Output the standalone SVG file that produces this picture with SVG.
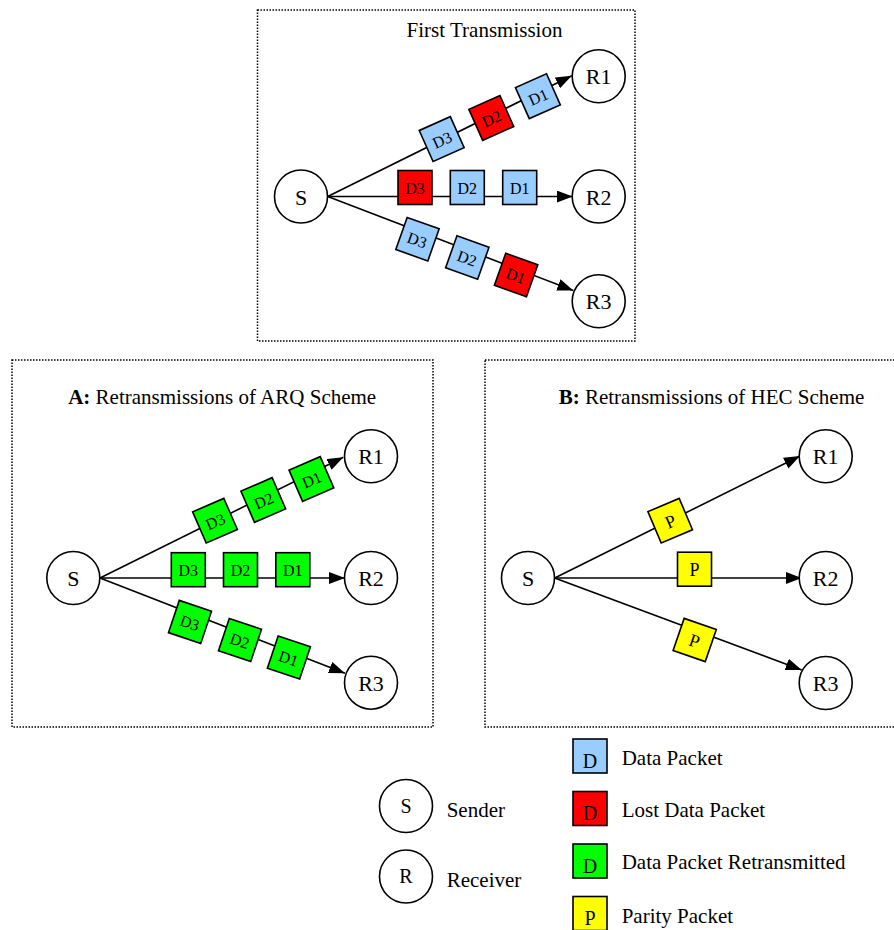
<svg xmlns="http://www.w3.org/2000/svg" width="894" height="930" viewBox="0 0 894 930">
<defs>
<marker id="arr" markerUnits="userSpaceOnUse" markerWidth="18" markerHeight="14" refX="16" refY="6" orient="auto"><path d="M0,0 L16,6 L0,12 z" fill="#000"/></marker>
</defs>
<style>
.frame{fill:none;stroke:#000;stroke-width:1.5;stroke-dasharray:1.5 1.5}
.node circle{fill:#fff;stroke:#000;stroke-width:1.6}
.node text,.title,.lbl{font-family:"Liberation Serif","Times New Roman",serif;fill:#000}
.node text{font-size:22px;text-anchor:middle}
.title{font-size:21px;text-anchor:middle}
.lbl{font-size:21px}
.pk rect{stroke:#000;stroke-width:1.6}
.pk text{font-family:"Liberation Serif","Times New Roman",serif;font-size:16px;text-anchor:middle;fill:#000}
.pk.par text{font-size:18px}
.pk.lg text{font-size:20px}
.blue rect{fill:#99ccff}
.red rect{fill:#ff0000}
.green rect{fill:#00ff00}
.yel rect{fill:#ffff00}
.edge{stroke:#000;stroke-width:1.6;fill:none;marker-end:url(#arr)}
</style>
<rect fill="#fff" x="0" y="0" width="894" height="930"/>

<!-- frames -->
<rect class="frame" x="257.5" y="10" width="377.5" height="331"/>
<rect class="frame" x="12" y="360" width="421" height="367"/>
<rect class="frame" x="485" y="360" width="420" height="367"/>

<text class="title" x="484.5" y="36.7">First Transmission</text>
<text class="title" x="222.2" y="404.3"><tspan font-weight="bold">A:</tspan> Retransmissions of ARQ Scheme</text>
<text class="title" x="711.5" y="404.3"><tspan font-weight="bold">B:</tspan> Retransmissions of HEC Scheme</text>

<g id="connectors">
<line class="edge" x1="327.7" y1="196.5" x2="571.7" y2="75.7"/>
<line class="edge" x1="327.7" y1="196.5" x2="572.7" y2="196.5"/>
<line class="edge" x1="327.7" y1="196.5" x2="573.3" y2="290.5"/>
<line class="edge" x1="100" y1="578" x2="343.3" y2="457.3"/>
<line class="edge" x1="100" y1="578" x2="345" y2="578"/>
<line class="edge" x1="100" y1="578" x2="345" y2="673.3"/>
<line class="edge" x1="554.7" y1="578" x2="800" y2="456"/>
<line class="edge" x1="554.7" y1="578" x2="801.7" y2="578"/>
<line class="edge" x1="554.7" y1="578" x2="801.7" y2="670"/>
</g>

<!-- top panel packets -->
<g id="t1-d3" class="pk blue" transform="translate(441.7,139.1) rotate(-24)"><rect x="-17" y="-17" width="34" height="34"/><text y="6.5">D3</text></g>
<g id="t1-d2" class="pk red" transform="translate(491.3,117.9) rotate(-24)"><rect x="-17" y="-17" width="34" height="34"/><text y="6.5">D2</text></g>
<g id="t1-d1" class="pk blue" transform="translate(537.9,96.2) rotate(-24)"><rect x="-17" y="-17" width="34" height="34"/><text y="6.5">D1</text></g>
<g id="t2-d3" class="pk red" transform="translate(415,187.5)"><rect x="-17" y="-17" width="34" height="34"/><text y="6.5">D3</text></g>
<g id="t2-d2" class="pk blue" transform="translate(467.3,187.5)"><rect x="-17" y="-17" width="34" height="34"/><text y="6.5">D2</text></g>
<g id="t2-d1" class="pk blue" transform="translate(519.7,187.5)"><rect x="-17" y="-17" width="34" height="34"/><text y="6.5">D1</text></g>
<g id="t3-d3" class="pk blue" transform="translate(417.5,239.2) rotate(19.5)"><rect x="-17" y="-17" width="34" height="34"/><text y="6.5">D3</text></g>
<g id="t3-d2" class="pk blue" transform="translate(467.3,257.5) rotate(19.5)"><rect x="-17" y="-17" width="34" height="34"/><text y="6.5">D2</text></g>
<g id="t3-d1" class="pk red" transform="translate(516.1,275) rotate(19.5)"><rect x="-17" y="-17" width="34" height="34"/><text y="6.5">D1</text></g>

<!-- panel A packets -->
<g id="a1-d3" class="pk green" transform="translate(215,520.7) rotate(-23.5)"><rect x="-17" y="-17" width="34" height="34"/><text y="6.5">D3</text></g>
<g id="a1-d2" class="pk green" transform="translate(263.3,500) rotate(-23.5)"><rect x="-17" y="-17" width="34" height="34"/><text y="6.5">D2</text></g>
<g id="a1-d1" class="pk green" transform="translate(311.4,479) rotate(-23.5)"><rect x="-17" y="-17" width="34" height="34"/><text y="6.5">D1</text></g>
<g id="a2-d3" class="pk green" transform="translate(188.3,569.7)"><rect x="-17" y="-17" width="34" height="34"/><text y="6.5">D3</text></g>
<g id="a2-d2" class="pk green" transform="translate(240.5,569.7)"><rect x="-17" y="-17" width="34" height="34"/><text y="6.5">D2</text></g>
<g id="a2-d1" class="pk green" transform="translate(292.8,569.7)"><rect x="-17" y="-17" width="34" height="34"/><text y="6.5">D1</text></g>
<g id="a3-d3" class="pk green" transform="translate(190,621.9) rotate(18.5)"><rect x="-17" y="-17" width="34" height="34"/><text y="6.5">D3</text></g>
<g id="a3-d2" class="pk green" transform="translate(240,640) rotate(18.5)"><rect x="-17" y="-17" width="34" height="34"/><text y="6.5">D2</text></g>
<g id="a3-d1" class="pk green" transform="translate(288.9,657.5) rotate(18.5)"><rect x="-17" y="-17" width="34" height="34"/><text y="6.5">D1</text></g>

<!-- panel B packets -->
<g id="b1-p" class="pk yel par" transform="translate(670.2,520.7) rotate(-23)"><rect x="-17" y="-17" width="34" height="34"/><text y="7">P</text></g>
<g id="b2-p" class="pk yel par" transform="translate(694.5,569.2)"><rect x="-17" y="-17" width="34" height="34"/><text y="7">P</text></g>
<g id="b3-p" class="pk yel par" transform="translate(694.7,640) rotate(19)"><rect x="-17" y="-17" width="34" height="34"/><text y="7">P</text></g>

<!-- nodes: top -->
<g id="top-S" class="node"><circle cx="301" cy="196.5" r="26.5"/><text x="301" y="204.5">S</text></g>
<g id="top-R1" class="node"><circle cx="598.7" cy="76.3" r="26.5"/><text x="598.7" y="84.3">R1</text></g>
<g id="top-R2" class="node"><circle cx="598.7" cy="196.5" r="26.5"/><text x="598.7" y="204.5">R2</text></g>
<g id="top-R3" class="node"><circle cx="598.7" cy="301.3" r="26.5"/><text x="598.7" y="309.3">R3</text></g>
<!-- nodes: A -->
<g id="a-S" class="node"><circle cx="73.3" cy="578" r="26.5"/><text x="73.3" y="586">S</text></g>
<g id="a-R1" class="node"><circle cx="371" cy="456.3" r="26.5"/><text x="371" y="464.3">R1</text></g>
<g id="a-R2" class="node"><circle cx="371" cy="578" r="26.5"/><text x="371" y="586">R2</text></g>
<g id="a-R3" class="node"><circle cx="371" cy="682.7" r="26.5"/><text x="371" y="690.7">R3</text></g>
<!-- nodes: B -->
<g id="b-S" class="node"><circle cx="528" cy="578" r="26.5"/><text x="528" y="586">S</text></g>
<g id="b-R1" class="node"><circle cx="825.7" cy="456.3" r="26.5"/><text x="825.7" y="464.3">R1</text></g>
<g id="b-R2" class="node"><circle cx="825.7" cy="578" r="26.5"/><text x="825.7" y="586">R2</text></g>
<g id="b-R3" class="node"><circle cx="825.7" cy="683" r="26.5"/><text x="825.7" y="691">R3</text></g>

<!-- legend -->
<g id="legend-sender" class="node"><circle cx="406" cy="806" r="26.5"/><text x="406" y="812.7" style="font-size:20px">S</text></g>
<text class="lbl" x="446.7" y="817.3">Sender</text>
<g id="legend-receiver" class="node"><circle cx="406" cy="876.5" r="26.5"/><text x="406" y="883.3" style="font-size:20px">R</text></g>
<text class="lbl" x="446.7" y="887.3">Receiver</text>

<g id="legend-data" class="pk blue lg"><rect x="573" y="739" width="34" height="34"/><text x="590" y="767.5">D</text></g>
<text class="lbl" x="621.7" y="765">Data Packet</text>
<g id="legend-lost" class="pk red lg"><rect x="573" y="791.5" width="34" height="34"/><text x="590" y="820">D</text></g>
<text class="lbl" x="621.7" y="817.3">Lost Data Packet</text>
<g id="legend-retx" class="pk green lg"><rect x="573" y="844" width="34" height="34"/><text x="590" y="872.5">D</text></g>
<text class="lbl" x="621.7" y="869.3">Data Packet Retransmitted</text>
<g id="legend-parity" class="pk yel lg"><rect x="573" y="896.5" width="34" height="34"/><text x="590" y="925">P</text></g>
<text class="lbl" x="621.7" y="922.7">Parity Packet</text>
</svg>
